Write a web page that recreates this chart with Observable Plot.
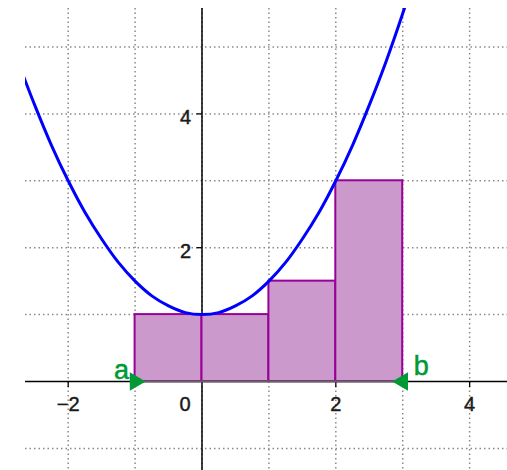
<!DOCTYPE html>
<html>
<head>
<meta charset="utf-8">
<script src="https://cdn.jsdelivr.net/npm/d3@7"></script>
<script src="https://cdn.jsdelivr.net/npm/@observablehq/plot@0.6"></script>
<style>
  html, body { margin: 0; padding: 0; background: #fff; }
  svg { display: block; }
</style>
</head>
<body>
<div id="chart"></div>
<script>
// Riemann rectangles
const barStart = [-1, 0, 1, 2];
const barEnd = [0, 1, 2, 3];
const barHeight = [1, 1, 1.5, 3];

// curve points
const curveX = [-2.75, -2.5, -2.25, -2, -1.75, -1.5, -1.25, -1, -0.75, -0.5, -0.25, 0, 0.25, 0.5, 0.75, 1, 1.25, 1.5, 1.75, 2, 2.25, 2.5, 2.75, 3, 3.25];
const curveY = [4.78, 4.13, 3.53, 3, 2.53, 2.13, 1.78, 1.5, 1.28, 1.13, 1.03, 1, 1.03, 1.13, 1.28, 1.5, 1.78, 2.13, 2.53, 3, 3.53, 4.13, 4.78, 5.5, 6.28];

// grid and ticks
const gridX = [-2, -1, 0, 1, 2, 3, 4];
const gridY = [-1, 1, 2, 3, 4, 5];
const xTickVals = [-2, 2, 4];
const xTickLabels = ["−2", "2", "4"];
const yTickVals = [2, 4];
const yTickLabels = ["2", "4"];
const originLabel = ["0"];

// interval endpoints
const endpointNames = ["a", "b"];
const endpointX = [-1, 3];

const bars = barStart.map((s, i) => ({x1: s, x2: barEnd[i], h: barHeight[i]}));
const curve = curveX.map((x, i) => ({x, y: curveY[i]}));
const xTicks = xTickVals.map((v, i) => ({v, label: xTickLabels[i]}));
const yTicks = yTickVals.map((v, i) => ({v, label: yTickLabels[i]}));
const endpoints = endpointNames.map((n, i) => ({n, x: endpointX[i]}));

const font = "Liberation Sans, Arial, Helvetica, sans-serif";
const green = "#009933";
const lbl = {fontSize: 20, fill: "#1a1a1a", stroke: "#1a1a1a", strokeWidth: 0.45};

const chart = Plot.plot({
  width: 507,
  height: 470,
  marginLeft: 25,
  marginRight: 0,
  marginTop: 8,
  marginBottom: 0,
  style: {fontFamily: font, background: "#fff"},
  x: {domain: [-2.638, 4.566], axis: null},
  y: {domain: [-1.33, 5.575], axis: null},
  marks: [
    Plot.ruleX(gridX, {stroke: "#8a8a8a", strokeWidth: 1.5, strokeDasharray: "1.5,3"}),
    Plot.ruleY(gridY, {stroke: "#8a8a8a", strokeWidth: 1.5, strokeDasharray: "1.5,3"}),
    Plot.ruleX([0], {stroke: "#000", strokeWidth: 1.5}),
    Plot.ruleY([0], {stroke: "#000", strokeWidth: 1.3}),
    Plot.ruleX(xTicks, {x: "v", y1: 0, y2: 0, insetBottom: -6, stroke: "#000", strokeWidth: 1.3}),
    Plot.ruleY(yTicks, {y: "v", x1: 0, x2: 0, insetLeft: -5, stroke: "#000", strokeWidth: 1.3}),
    Plot.rectY(bars, {x1: "x1", x2: "x2", y1: 0, y2: "h", fill: "#cc99cc", stroke: "#990099", strokeWidth: 2}),
    Plot.ruleY([0], {x1: barStart[0], x2: barEnd[barEnd.length - 1], stroke: "#666", strokeWidth: 2.2}),
    Plot.line(curve, {x: "x", y: "y", stroke: "#0000ff", strokeWidth: 3, curve: "catmull-rom", clip: true}),
    Plot.text(xTicks, {x: "v", y: 0, text: "label", dy: 23.5, ...lbl}),
    Plot.text(originLabel, {x: 0, y: 0, text: d => d, dx: -17, dy: 23.5, ...lbl}),
    Plot.text(yTicks, {x: 0, y: "v", text: "label", dx: -11, dy: 4, textAnchor: "end", ...lbl}),
    Plot.dot(endpoints.slice(0, 1), {x: "x", y: 0, symbol: "triangle", r: 6.8, fill: green, stroke: "none", rotate: 90}),
    Plot.dot(endpoints.slice(1), {x: "x", y: 0, symbol: "triangle", r: 6.8, fill: green, stroke: "none", rotate: -90}),
    Plot.text(endpoints.slice(0, 1), {x: "x", y: 0, text: "n", dx: -13.7, dy: -11.6, fontSize: 27, fill: green, stroke: green, strokeWidth: 0.5}),
    Plot.text(endpoints.slice(1), {x: "x", y: 0, text: "n", dx: 18.5, dy: -15.6, fontSize: 27, fill: green, stroke: green, strokeWidth: 0.5})
  ]
});
document.getElementById("chart").appendChild(chart);
</script>
</body>
</html>
